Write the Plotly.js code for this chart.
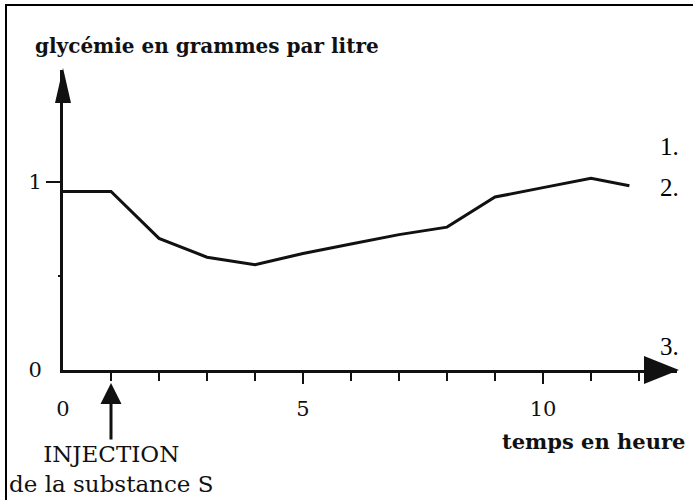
<!DOCTYPE html>
<html>
<head>
<meta charset="utf-8">
<script src="https://cdn.plot.ly/plotly-3.0.1.min.js"></script>
<style>html,body{margin:0;padding:0;background:#fff;}#chart{width:693px;height:500px;}</style>
</head>
<body>
<div id="chart"></div>
<script>
// ---- data ----
const hours = [0, 1, 2, 3, 4, 5, 6, 7, 8, 9, 10, 11, 11.8];
const glycemie = [0.95, 0.95, 0.70, 0.60, 0.56, 0.62, 0.67, 0.72, 0.76, 0.92, 0.97, 1.02, 0.98];

const xTickVals = [0, 5, 10];
const xTickText = ['0', '5', '10'];
const xMinorTicks = [1, 2, 3, 4, 6, 7, 8, 9, 11, 12];
const xMajorTicks = [5, 10];
const yTickVals = [0, 1];
const yTickText = ['0', '1'];
const yMajorTicks = [1];
const yMinorTicks = [0.5];

const yTitle = 'glycémie en grammes par litre';
const xTitle = 'temps en heure';
const injectionText = 'INJECTION<br>de la substance S';
const injectionHour = 1;
const sideLabels = ['1.', '2.', '3.'];

// ---- layout geometry ----
const W = 693, H = 500;
const M = {l: 63, r: 16, t: 70, b: 130};
const pw = W - M.l - M.r, ph = H - M.t - M.b;
const xMax = pw / 48;       // 48 px per hour
const yMax = ph / 188;      // 188 px per g/L
const px = x => (x - M.l) / pw;
const py = y => (H - M.b - y) / ph;

const serif = 'DejaVu Serif';
const ink = '#111';

const traces = [
  {x: hours, y: glycemie, type: 'scatter', mode: 'lines',
   line: {color: ink, width: 3}, hoverinfo: 'skip', cliponaxis: false},
  {x: hours, y: glycemie, xaxis: 'x2', yaxis: 'y2', type: 'scatter', mode: 'lines',
   line: {color: 'rgba(0,0,0,0)', width: 0}, hoverinfo: 'skip', showlegend: false}
];

const axisCommon = {showgrid: false, zeroline: false, fixedrange: true};

const layout = {
  width: W, height: H, margin: {l: M.l, r: M.r, t: M.t, b: M.b, pad: 0},
  paper_bgcolor: '#fff', plot_bgcolor: '#fff', showlegend: false,
  xaxis: Object.assign({}, axisCommon, {
    range: [0, xMax], showline: true, linecolor: ink, linewidth: 3,
    tickmode: 'array', tickvals: xTickVals, ticktext: xTickText, ticks: '',
    ticklabelstandoff: 18,
    tickfont: {family: serif, size: 21, color: ink},
    minor: {tickmode: 'array', tickvals: xMinorTicks, ticks: 'outside', ticklen: 8, tickwidth: 2.5, tickcolor: ink}
  }),
  xaxis2: Object.assign({}, axisCommon, {
    range: [0, xMax], overlaying: 'x', anchor: 'y', side: 'bottom', showline: false,
    tickmode: 'array', tickvals: xMajorTicks, ticks: 'outside', ticklen: 13, tickwidth: 2.5, tickcolor: ink,
    showticklabels: false
  }),
  yaxis: Object.assign({}, axisCommon, {
    range: [0, yMax], showline: true, linecolor: ink, linewidth: 3,
    tickmode: 'array', tickvals: yTickVals, ticktext: yTickText, ticks: '',
    ticklabelstandoff: 14,
    tickfont: {family: serif, size: 21, color: ink},
    minor: {tickmode: 'array', tickvals: yMajorTicks, ticks: 'outside', ticklen: 14, tickwidth: 2, tickcolor: ink}
  }),
  yaxis2: Object.assign({}, axisCommon, {
    range: [0, yMax], overlaying: 'y', anchor: 'x', side: 'left', showline: false,
    tickmode: 'array', tickvals: yMinorTicks, ticks: 'outside', ticklen: 4, tickwidth: 2, tickcolor: ink,
    showticklabels: false
  }),
  shapes: [
    // frame of the scanned figure
    {type: 'rect', xref: 'paper', yref: 'paper', x0: px(6), x1: px(W + 20), y0: py(H + 20), y1: py(5),
     line: {color: '#000', width: 2}, fillcolor: 'rgba(0,0,0,0)', layer: 'below'},
    // arrowhead of the vertical axis
    {type: 'path', xref: 'paper', yref: 'paper', xsizemode: 'pixel', ysizemode: 'pixel',
     xanchor: 0, yanchor: 1, path: 'M0,2 L-8,-33 L8,-33 Z',
     fillcolor: ink, line: {width: 0}},
    // arrowhead of the horizontal axis
    {type: 'path', xref: 'paper', yref: 'paper', xsizemode: 'pixel', ysizemode: 'pixel',
     xanchor: 1, yanchor: 0, path: 'M2,0 L-33,14 L-33,-14 Z',
     fillcolor: ink, line: {width: 0}}
  ],
  annotations: [
    {text: yTitle, xref: 'paper', yref: 'paper', x: px(33), y: py(46), xanchor: 'left', yanchor: 'middle',
     showarrow: false, font: {family: serif, size: 20, color: ink, weight: 'bold'}},
    {text: xTitle, xref: 'paper', yref: 'paper', x: px(593), y: py(441), xanchor: 'center', yanchor: 'middle',
     showarrow: false, font: {family: serif, size: 21, color: ink, weight: 'bold'}},
    {text: injectionText, xref: 'x', yref: 'paper', x: injectionHour, y: py(383),
     ax: 0, ay: 86, showarrow: true, arrowhead: 2, arrowsize: 1.4, arrowwidth: 3, arrowcolor: ink, standoff: 0,
     font: {family: serif, size: 23, color: ink}, align: 'center'},
    {text: sideLabels[0], xref: 'paper', yref: 'paper', x: px(669), y: py(146), xanchor: 'center', yanchor: 'middle',
     showarrow: false, font: {family: 'Liberation Serif', size: 25, color: '#000'}},
    {text: sideLabels[1], xref: 'paper', yref: 'paper', x: px(669), y: py(187), xanchor: 'center', yanchor: 'middle',
     showarrow: false, font: {family: 'Liberation Serif', size: 25, color: '#000'}},
    {text: sideLabels[2], xref: 'paper', yref: 'paper', x: px(669), y: py(346), xanchor: 'center', yanchor: 'middle',
     showarrow: false, font: {family: 'Liberation Serif', size: 25, color: '#000'}}
  ]
};

Plotly.newPlot('chart', traces, layout, {displayModeBar: false, staticPlot: true});
</script>
</body>
</html>
